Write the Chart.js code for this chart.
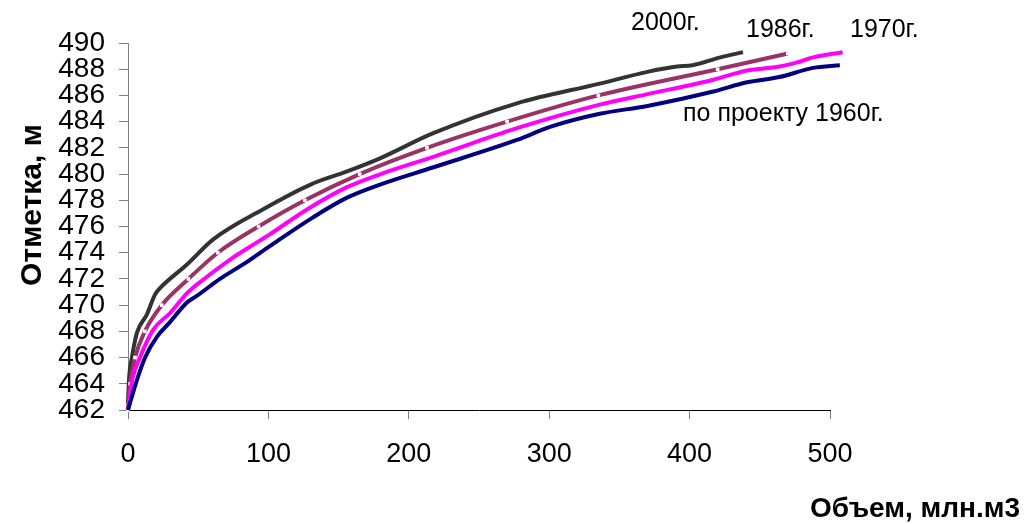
<!DOCTYPE html>
<html>
<head>
<meta charset="utf-8">
<script src="https://cdn.jsdelivr.net/npm/chart.js@4"></script>
<style>
  body { margin: 0; background: #fff; }
  canvas { display: block; }
</style>
</head>
<body>
<canvas id="curveChart" width="1034" height="524"></canvas>
<script>
// volume (mln m3) and level (m) pairs
const vol2000 = [0, 0.7, 2.8, 6.4, 13.5, 19.2, 22.8, 42, 60.5, 96, 130, 156, 179.5, 217, 277, 336, 370, 391, 402, 422, 438];
const lvl2000 = [462.5, 464.3, 466, 467.9, 469.3, 470.8, 471.3, 473.1, 475, 477.3, 479.2, 480.2, 481.2, 483.1, 485.4, 486.9, 487.8, 488.2, 488.3, 488.9, 489.3];

const vol1986 = [0, 1.5, 5, 12, 24, 43, 64, 93, 126, 165, 213, 270, 335, 420, 470];
const lvl1986 = [462, 464, 466, 468, 470, 472, 474, 476, 478, 480, 482, 484, 486, 488, 489.2];

const vol1970 = [0, 3, 8.5, 17.8, 30, 42, 53, 73, 89, 101, 127.5, 156, 180, 217, 277, 336, 370, 417, 441, 464, 476, 488, 509];
const lvl1970 = [462, 464.3, 466, 468.1, 469.4, 470.9, 471.9, 473.5, 474.6, 475.4, 477.3, 479, 480, 481.3, 483.5, 485.3, 486.1, 487.2, 487.9, 488.2, 488.5, 488.9, 489.3];

const vol1960 = [0, 6.4, 12.1, 20.7, 29.9, 42, 49, 65.5, 84.8, 101, 131.8, 156, 179.5, 217, 277, 300.6, 336, 370, 417, 441, 464, 488, 507];
const lvl1960 = [462, 464.3, 466, 467.6, 468.7, 470.2, 470.7, 472, 473.3, 474.5, 476.7, 478.2, 479.2, 480.5, 482.6, 483.6, 484.6, 485.2, 486.3, 487, 487.4, 488.1, 488.3];

const xTicks = [0, 100, 200, 300, 400, 500];
const yMin = 462;
const yMax = 490;

const xTitle = 'Объем, млн.м3';
const yTitle = 'Отметка, м';
const seriesNotes = ['2000г.', '1986г.', '1970г.', 'по проекту 1960г.'];

const toPoints = (xs, ys) => xs.map((x, i) => ({ x: x, y: ys[i] }));

const lineDefaults = {
    borderWidth: 4,
    pointRadius: 0,
    fill: false,
    clip: false,
    cubicInterpolationMode: 'monotone',
};

const textPlugin = {
    id: 'textPlugin',
    afterDraw(chart) {
        const ctx = chart.ctx;
        ctx.save();
        ctx.fillStyle = '#000';

        ctx.font = '25px "Liberation Sans", Arial, sans-serif';
        ctx.textAlign = 'left';
        ctx.textBaseline = 'alphabetic';
        ctx.fillText(seriesNotes[0], 631, 30);
        ctx.fillText(seriesNotes[1], 746, 37);
        ctx.fillText(seriesNotes[2], 850, 37);
        ctx.fillText(seriesNotes[3], 683, 121);

        ctx.font = 'bold 28px "Liberation Sans", Arial, sans-serif';
        ctx.textAlign = 'right';
        ctx.fillText(xTitle, 1020, 517);

        ctx.font = 'bold 30px "Liberation Sans", Arial, sans-serif';
        ctx.translate(41, 205);
        ctx.rotate(-Math.PI / 2);
        ctx.textAlign = 'center';
        ctx.fillText(yTitle, 0, 0);
        ctx.restore();
    },
};

new Chart(document.getElementById('curveChart'), {
    type: 'line',
    data: {
        datasets: [
            {
                ...lineDefaults,
                label: '1960',
                data: toPoints(vol1960, lvl1960),
                borderColor: '#000080',
            },
            {
                ...lineDefaults,
                label: '1970',
                data: toPoints(vol1970, lvl1970),
                borderColor: '#ff00ff',
            },
            {
                ...lineDefaults,
                label: '1986',
                data: toPoints(vol1986, lvl1986),
                borderColor: '#993366',
                pointRadius: 2.5,
                pointStyle: 'rect',
                pointBackgroundColor: '#ffffff',
                pointBorderWidth: 0,
            },
            {
                ...lineDefaults,
                label: '2000',
                data: toPoints(vol2000, lvl2000),
                borderColor: '#333333',
            },
        ],
    },
    options: {
        responsive: false,
        animation: false,
        layout: {
            padding: { top: 43, right: 204, left: 0, bottom: 0 },
        },
        plugins: {
            legend: { display: false },
            tooltip: { enabled: false },
        },
        scales: {
            x: {
                type: 'linear',
                min: 0,
                max: 500,
                afterBuildTicks: (scale) => {
                    scale.ticks = xTicks.map((v) => ({ value: v }));
                },
                afterFit: (scale) => {
                    scale.height = 114;
                },
                ticks: {
                    color: '#000',
                    font: { family: '"Liberation Sans", Arial, sans-serif', size: 27 },
                    padding: 19,
                    maxRotation: 0,
                },
                grid: {
                    drawOnChartArea: false,
                    tickLength: 9,
                    tickColor: '#808080',
                },
                border: { color: '#000', width: 1 },
            },
            y: {
                min: yMin,
                max: yMax,
                afterFit: (scale) => {
                    scale.width = 128;
                },
                ticks: {
                    stepSize: 2,
                    autoSkip: false,
                    color: '#000',
                    font: { family: '"Liberation Sans", Arial, sans-serif', size: 28 },
                    padding: 14,
                },
                grid: {
                    drawOnChartArea: false,
                    tickLength: 9,
                    tickColor: '#808080',
                },
                border: { color: '#808080', width: 1 },
            },
        },
    },
    plugins: [textPlugin],
});
</script>
</body>
</html>
